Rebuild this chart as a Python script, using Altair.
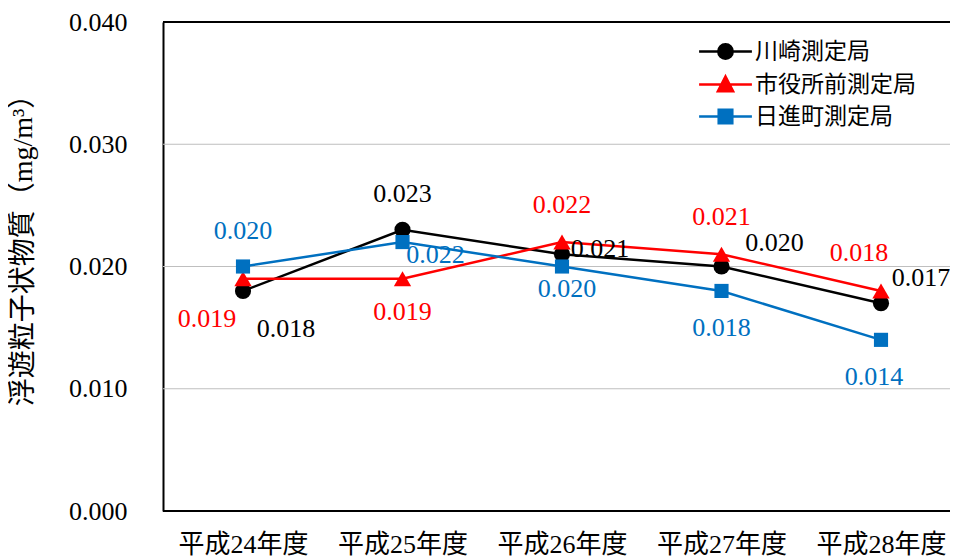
import altair as alt
import pandas as pd

years = ["平成24年度", "平成25年度", "平成26年度", "平成27年度", "平成28年度"]
series = ["川崎測定局", "市役所前測定局", "日進町測定局"]
colors = ["#000000", "#FF0000", "#0070C0"]
marker_shapes = ["circle", "triangle-up", "square"]
marker_sizes = [260, 300, 200]
y_ticks = [0, 0.01, 0.02, 0.03, 0.04]

kawasaki = [0.018, 0.023, 0.021, 0.020, 0.017]
shiyakusho = [0.019, 0.019, 0.022, 0.021, 0.018]
nisshin = [0.020, 0.022, 0.020, 0.018, 0.014]
values = [kawasaki, shiyakusho, nisshin]

# data-label offsets in pixels from each point
label_dx = [[43, 0, 38, 53, 40], [-36, 0, 0, 0, -22], [0, 33, 5, 0, -7]]
label_dy = [[38, -36, -5, -24, -25], [40, 33, -37, -37, -38], [-36, 13, 22, 37, 37]]

# legend symbols: a line segment with the series marker
legend_paths = [
    "M-3.3,0H3.3M-0.9,0C-0.9,-0.5,-0.5,-0.9,0,-0.9C0.5,-0.9,0.9,-0.5,0.9,0"
    "C0.9,0.5,0.5,0.9,0,0.9C-0.5,0.9,-0.9,0.5,-0.9,0Z",
    "M-3.3,0H3.3M0,-1L0.95,0.85L-0.95,0.85Z",
    "M-3.3,0H3.3M-0.85,-0.85L0.85,-0.85L0.85,0.85L-0.85,0.85Z",
]

rows = []
for si, s in enumerate(series):
    for yi, y in enumerate(years):
        rows.append({"year": y, "series": s, "value": values[si][yi],
                     "dx": label_dx[si][yi], "dy": label_dy[si][yi]})
df = pd.DataFrame(rows)

FONT = "Liberation Serif, Noto Sans CJK JP"
W, H = 787, 489

yscale = alt.Scale(domain=[y_ticks[0], y_ticks[-1]], nice=False)

xenc = alt.X("year:N", sort=years, scale=alt.Scale(type="point", padding=0, range=[80, 718]),
             axis=alt.Axis(title=None, labelAngle=0, labelFont=FONT, labelFontSize=26,
                           labelColor="#000", labelPadding=20, grid=False, domain=False,
                           ticks=False))
yaxis = alt.Axis(title="浮遊粒子状物質（mg/m³）", values=y_ticks,
                 format=".3f", labelFont=FONT, labelFontSize=26, labelColor="#000",
                 labelPadding=36, labelFlush=False, labelOverlap=False,
                 ticks=False, tickSize=0, domain=True, domainColor="#000", domainWidth=2,
                 grid=False,
                 titleFont=FONT, titleFontSize=28, titleFontWeight="normal",
                 titleColor="#000", titleAngle=270, titleX=-140, titleY=221,
                 titleAlign="center", titleBaseline="middle")

base = alt.Chart(df).encode(x=xenc, y=alt.Y("value:Q", scale=yscale, axis=yaxis))

grid_df = pd.DataFrame({"tick": y_ticks[1:-1]})
frame_df = pd.DataFrame({"tick": [y_ticks[0], y_ticks[-1]]})

grid_rules = alt.Chart(grid_df).mark_rule(color="#BFBFBF", strokeWidth=1).encode(
    y=alt.Y("tick:Q", scale=yscale, axis=yaxis), x=alt.value(0), x2=alt.value(W))
frame_rules = alt.Chart(frame_df).mark_rule(color="#000", strokeWidth=2).encode(
    y=alt.Y("tick:Q", scale=yscale, axis=yaxis), x=alt.value(0), x2=alt.value(W))

series_layers = []
text_layers = []
for s, c, sh, sz in zip(series, colors, marker_shapes, marker_sizes):
    sub = base.transform_filter(alt.datum.series == s)
    series_layers.append(sub.mark_line(strokeWidth=2.5, color=c))
    series_layers.append(sub.mark_point(filled=True, shape=sh, size=sz, color=c, opacity=1))
    text_layers.append(
        alt.Chart(df).transform_filter(alt.datum.series == s).transform_calculate(
            ly="datum.value - datum.dy * 0.04 / 489"
        ).mark_text(font=FONT, fontSize=26, color=c).encode(
            x=xenc,
            y=alt.Y("ly:Q", scale=yscale, axis=yaxis),
            text=alt.Text("value:Q", format=".3f"),
            xOffset=alt.XOffset("dx:Q", scale=None),
        )
    )

leg = alt.Legend(title=None, orient="none", legendX=551, legendY=18,
                 labelFont=FONT, labelFontSize=23, labelColor="#000", labelLimit=400,
                 symbolSize=256, symbolStrokeWidth=2.5, symbolOpacity=1,
                 labelOffset=18, rowPadding=7, padding=0)

legend_layer = alt.Chart(df).transform_filter("false").mark_point(filled=True).encode(
    x=xenc,
    y=alt.Y("value:Q", scale=yscale, axis=yaxis),
    fill=alt.Fill("series:N", scale=alt.Scale(domain=series, range=colors), legend=leg),
    stroke=alt.Stroke("series:N", scale=alt.Scale(domain=series, range=colors), legend=leg),
    shape=alt.Shape("series:N", scale=alt.Scale(domain=series, range=legend_paths), legend=leg),
)

chart = alt.layer(grid_rules, frame_rules, *series_layers, *text_layers, legend_layer).properties(
    width=W, height=H,
    autosize=alt.AutoSizeParams(type="none"),
    padding={"left": 155, "top": 14, "right": 0, "bottom": 46},
).configure(font=FONT, background="white").configure_view(
    stroke=None
).configure_axis(labelFont=FONT, titleFont=FONT)

chart.save("out.html", embed_options={"renderer": "svg", "actions": False})
